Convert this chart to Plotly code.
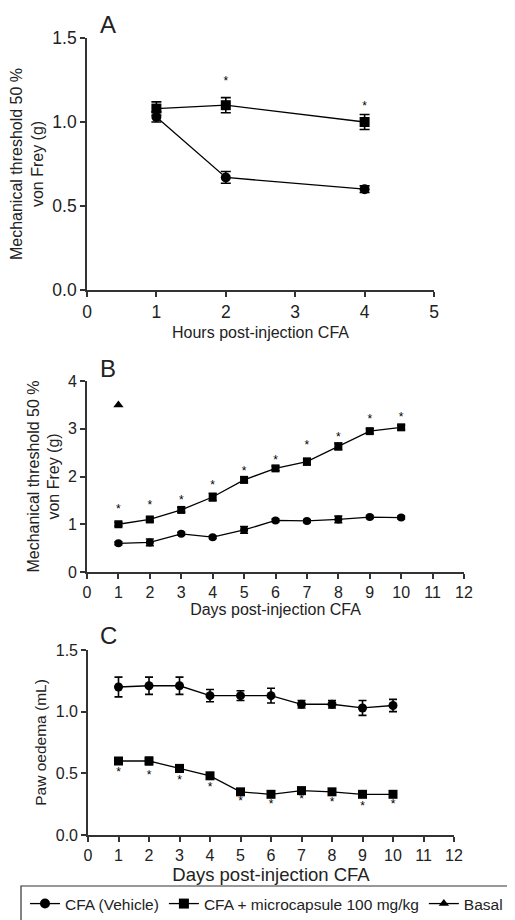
import plotly.graph_objects as go

# ---------------- data ----------------
hours_A = [1, 2, 4]
A_vehicle = [1.03, 0.67, 0.60]
A_vehicle_err = [0.03, 0.035, 0.02]
A_micro = [1.08, 1.10, 1.00]
A_micro_err = [0.04, 0.045, 0.045]
A_star_x = [2, 4]
A_star_y = [1.24, 1.09]

days = [1, 2, 3, 4, 5, 6, 7, 8, 9, 10]
B_vehicle = [0.60, 0.62, 0.80, 0.73, 0.88, 1.08, 1.07, 1.10, 1.15, 1.14]
B_vehicle_err = [0.03, 0.07, 0.03, 0.03, 0.07, 0.03, 0.03, 0.07, 0.03, 0.03]
B_micro = [1.00, 1.10, 1.30, 1.57, 1.93, 2.17, 2.31, 2.63, 2.95, 3.03]
B_micro_err = [0.04, 0.04, 0.05, 0.08, 0.06, 0.05, 0.07, 0.07, 0.05, 0.05]
B_basal_x = [1]
B_basal = [3.5]
B_star_y = [1.30, 1.38, 1.49, 1.80, 2.09, 2.33, 2.63, 2.80, 3.18, 3.22]

C_vehicle = [1.20, 1.21, 1.21, 1.13, 1.13, 1.13, 1.06, 1.06, 1.03, 1.05]
C_vehicle_err = [0.08, 0.07, 0.07, 0.05, 0.04, 0.06, 0.03, 0.03, 0.06, 0.05]
C_micro = [0.60, 0.60, 0.54, 0.48, 0.35, 0.33, 0.36, 0.35, 0.33, 0.33]
C_micro_err = [0.02, 0.03, 0.03, 0.02, 0.02, 0.02, 0.02, 0.02, 0.02, 0.02]
C_star_y = [0.50, 0.48, 0.44, 0.38, 0.27, 0.24, 0.28, 0.26, 0.23, 0.24]

legend_names = ["CFA (Vehicle)", "CFA + microcapsule 100 mg/kg", "Basal"]

# ---------------- figure ----------------
# page has an 8px body margin, so the figure is 507x912 and positions are
# given in page pixels and shifted by that margin.
OFF = 8
W, H = 515 - OFF, 920 - OFF
BLACK = "#000000"
AXC = "#333333"
TXT = "#222222"
FONT = "Liberation Sans, Arial, Helvetica, sans-serif"

def px_x(p):
    return (p - OFF) / W

def px_y(p):
    return 1 - (p - OFF) / H

def f(size):
    return dict(family=FONT, size=size, color=TXT)

fig = go.Figure()

def add_series(x, y, err, symbol, size, xa, ya, name, show, rank, capw=4):
    fig.add_trace(go.Scatter(
        x=x, y=y, mode="lines+markers", name=name, showlegend=show,
        legendrank=rank,
        line=dict(color=BLACK, width=1.3),
        marker=dict(symbol=symbol, size=size, color=BLACK, line=dict(width=0)),
        error_y=dict(type="data", array=err, visible=True,
                     color=BLACK, thickness=1.6, width=capw),
        xaxis=xa, yaxis=ya,
    ))

def add_stars(x, y, xa, ya):
    fig.add_trace(go.Scatter(
        x=x, y=y, mode="text", text=["*"] * len(x), showlegend=False,
        textfont=dict(size=12, color=BLACK, family=FONT),
        textposition="middle center", xaxis=xa, yaxis=ya, hoverinfo="skip",
    ))

# Panel A
add_series(hours_A, A_vehicle, A_vehicle_err, "circle", 10, "x", "y", legend_names[0], True, 1, 5)
add_series(hours_A, A_micro, A_micro_err, "square", 10, "x", "y", legend_names[1], True, 2, 5)
add_stars(A_star_x, A_star_y, "x", "y")

# Panel B
add_series(days, B_vehicle, B_vehicle_err, "circle", 8, "x2", "y2", legend_names[0], False, 1)
add_series(days, B_micro, B_micro_err, "square", 8, "x2", "y2", legend_names[1], False, 2)
fig.add_trace(go.Scatter(
    x=B_basal_x, y=B_basal, mode="lines+markers", name=legend_names[2], showlegend=True,
    legendrank=3,
    line=dict(color=BLACK, width=1.3),
    marker=dict(symbol="triangle-up", size=9, color=BLACK, line=dict(width=0)),
    xaxis="x2", yaxis="y2",
))
add_stars(days, B_star_y, "x2", "y2")

# Panel C
add_series(days, C_vehicle, C_vehicle_err, "circle", 9, "x3", "y3", legend_names[0], False, 1)
add_series(days, C_micro, C_micro_err, "square", 9, "x3", "y3", legend_names[1], False, 2)
add_stars(days, C_star_y, "x3", "y3")

def axis(domain, rng, dtick, anchor, title, tsize, standoff, ticksize, fmt=None):
    d = dict(
        domain=domain, range=rng, dtick=dtick, anchor=anchor,
        showline=True, linecolor=AXC, linewidth=1.6, mirror=False,
        ticks="outside", ticklen=5, tickwidth=1.6, tickcolor=AXC,
        showgrid=False, zeroline=False, automargin=False,
        tickfont=f(ticksize),
        title=dict(text=title, font=f(tsize), standoff=standoff),
    )
    if fmt:
        d["tickformat"] = fmt
    return d

fig.update_layout(
    width=W, height=H,
    margin=dict(l=0, r=0, t=0, b=0, autoexpand=False),
    paper_bgcolor="white", plot_bgcolor="white",
    font=dict(family=FONT, color=TXT),
    xaxis=axis([px_x(87), px_x(434)], [0, 5], 1, "y",
               "Hours post-injection CFA", 16, 6, 17.5),
    yaxis=axis([px_y(290), px_y(38)], [0, 1.5], 0.5, "x",
               "Mechanical threshold 50 %<br>von Frey (g)", 16, 6, 17.5, ".1f"),
    xaxis2=axis([px_x(87), px_x(464)], [0, 12], 1, "y2",
                "Days post-injection CFA", 16, 4, 16),
    yaxis2=axis([px_y(572), px_y(381)], [0, 4], 1, "x2",
                "Mechanical threshold 50 %<br>von Frey (g)", 16, 4, 16),
    xaxis3=axis([px_x(88), px_x(454)], [0, 12], 1, "y3",
                "Days post-injection CFA", 18.5, 4, 16),
    yaxis3=axis([px_y(835), px_y(650)], [0, 1.5], 0.5, "x3",
                "Paw oedema (mL)", 15.5, 5, 16, ".1f"),
    legend=dict(
        orientation="h", x=px_x(25), xanchor="left", y=px_y(904), yanchor="middle",
        font=f(15.5),
        bgcolor="rgba(0,0,0,0)", borderwidth=0, traceorder="normal",
        itemwidth=30, tracegroupgap=0,
    ),
    showlegend=True,
)

# panel letters
for letter, xp, yp in [("A", 108, 25), ("B", 108, 368), ("C", 108, 635)]:
    fig.add_annotation(text=letter, x=px_x(xp), y=px_y(yp), xref="paper", yref="paper",
                       showarrow=False, xanchor="center", yanchor="middle",
                       font=f(24))

# legend frame (extends past the right/bottom edge as in the original)
fig.add_shape(type="rect", xref="paper", yref="paper",
              x0=px_x(21), x1=1.05, y0=px_y(886), y1=-0.05,
              line=dict(color=AXC, width=1.2), fillcolor="rgba(0,0,0,0)")

fig.write_html("out.html")
